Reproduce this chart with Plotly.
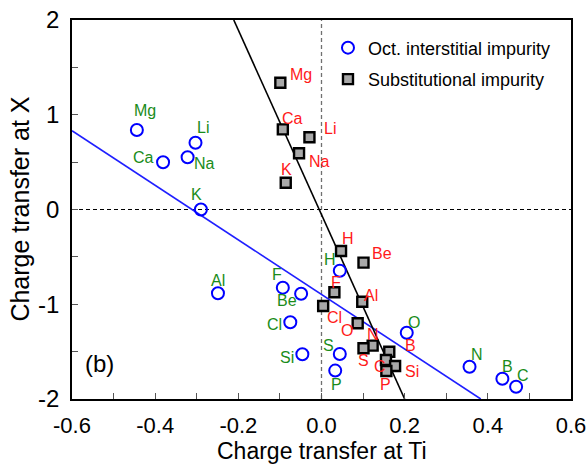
import plotly.graph_objects as go

# ---------------- data ----------------
oct_labels = ["Mg", "Li", "Ca", "Na", "K", "Al", "F", "Be", "Cl", "Si", "S", "P", "H", "O", "N", "B", "C"]
oct_x = [-0.444, -0.303, -0.381, -0.322, -0.290, -0.249, -0.093, -0.049, -0.075, -0.046, 0.044, 0.033, 0.044, 0.205, 0.356, 0.435, 0.468]
oct_y = [0.839, 0.705, 0.498, 0.551, 0.0, -0.884, -0.825, -0.889, -1.19, -1.528, -1.525, -1.70, -0.646, -1.30, -1.66, -1.786, -1.87]

sub_labels = ["Mg", "Ca", "Li", "Na", "K", "H", "Be", "F", "Al", "Cl", "O", "N", "S", "B", "C", "Si", "P"]
sub_x = [-0.099, -0.093, -0.029, -0.054, -0.086, 0.047, 0.101, 0.031, 0.098, 0.004, 0.087, 0.123, 0.101, 0.163, 0.155, 0.177, 0.156]
sub_y = [1.338, 0.846, 0.762, 0.593, 0.283, -0.438, -0.561, -0.874, -0.973, -1.018, -1.201, -1.437, -1.465, -1.501, -1.589, -1.652, -1.705]

# fitted lines
oct_fit_x = [-0.6, 0.383]
oct_fit_y = [0.832, -2.0]
sub_fit_x = [-0.211, 0.200]
sub_fit_y = [2.0, -2.0]

x_ticks = [-0.6, -0.4, -0.2, 0.0, 0.2, 0.4, 0.6]
x_tick_text = ["-0.6", "-0.4", "-0.2", "0.0", "0.2", "0.4", "0.6"]
y_ticks = [-2, -1, 0, 1, 2]
y_tick_text = ["-2", "-1", "0", "1", "2"]

x_title = "Charge transfer at Ti"
y_title = "Charge transfer at X"

# ---------------- label offsets (pixels: dx right, dy down) ----------------
oct_off = {"Mg": (8, -20), "Li": (7, -15), "Ca": (-20, -5), "Na": (17, 6), "K": (-4, -15),
           "Al": (0, -13), "F": (-6, -13), "Be": (-14, 7), "Cl": (-16, 2), "Si": (-15, 3),
           "S": (-11, -8), "P": (1, 14), "H": (-10, -11), "O": (7, -10), "N": (7, -12),
           "B": (5, -12), "C": (7, -11)}
sub_off = {"Mg": (21, -8), "Ca": (10, -11), "Li": (21, -9), "Na": (20, 8), "K": (1, -13),
           "H": (7, -13), "Be": (18, -9), "F": (2, -10), "Al": (9, -6), "Cl": (11, 12),
           "O": (-11, 7), "N": (0, -11), "S": (0, 12), "B": (21, -6), "C": (-6, 6),
           "Si": (17, 5), "P": (-1, 13)}

FONT = "Liberation Sans, Arial, Helvetica, sans-serif"
GREEN = "#1a8c1a"
RED = "#ff1a1a"

fig = go.Figure()

fig.add_trace(go.Scatter(x=oct_fit_x, y=oct_fit_y, mode="lines",
                         line=dict(color="#1f1fff", width=1.6), showlegend=False, hoverinfo="skip"))
fig.add_trace(go.Scatter(x=sub_fit_x, y=sub_fit_y, mode="lines",
                         line=dict(color="black", width=1.6), showlegend=False, hoverinfo="skip"))

fig.add_trace(go.Scatter(x=oct_x, y=oct_y, mode="markers", name="Oct. interstitial impurity",
                         legendgroup="a",
                         marker=dict(symbol="circle-open", size=12, color="#0000ff",
                                     line=dict(width=2, color="#0000ff"))))
fig.add_trace(go.Scatter(x=sub_x, y=sub_y, mode="markers", name="Substitutional impurity",
                         legendgroup="b",
                         marker=dict(symbol="square", size=10, color="#a8a8a8",
                                     line=dict(width=2.4, color="black"))))

for lab, x, y in zip(oct_labels, oct_x, oct_y):
    dx, dy = oct_off[lab]
    fig.add_annotation(x=x, y=y, text=lab, showarrow=False, xshift=dx, yshift=-dy,
                       font=dict(family=FONT, size=16, color=GREEN))
for lab, x, y in zip(sub_labels, sub_x, sub_y):
    dx, dy = sub_off[lab]
    fig.add_annotation(x=x, y=y, text=lab, showarrow=False, xshift=dx, yshift=-dy,
                       font=dict(family=FONT, size=16, color=RED))

fig.add_annotation(xref="paper", yref="paper", x=0.022, y=0.093, text="(b)", showarrow=False,
                   xanchor="left", yanchor="middle", font=dict(family=FONT, size=24, color="black"))

# axis titles
fig.add_annotation(xref="paper", yref="paper", x=0.5, y=-0.138, text=x_title, showarrow=False,
                   xanchor="center", yanchor="middle", font=dict(family=FONT, size=23, color="black"))
fig.add_annotation(xref="paper", yref="paper", x=-0.106, y=0.5, text=y_title, showarrow=False,
                   textangle=-90, xanchor="center", yanchor="middle",
                   font=dict(family=FONT, size=25, color="black"))

# zero reference lines
fig.add_shape(type="line", xref="x", yref="y", x0=0, x1=0, y0=-2, y1=2,
              line=dict(color="#707070", width=1.3, dash="4px,3px"), layer="below")
fig.add_shape(type="line", xref="x", yref="y", x0=-0.6, x1=0.6, y0=0, y1=0,
              line=dict(color="black", width=1, dash="4px,3px"), layer="below")

fig.update_layout(
    width=588, height=467, autosize=False,
    margin=dict(l=72, r=17, t=20, b=68),
    plot_bgcolor="white", paper_bgcolor="white",
    font=dict(family=FONT, color="black"),
    legend=dict(x=0.513, y=0.975, xanchor="left", yanchor="top",
                bgcolor="rgba(0,0,0,0)", font=dict(family=FONT, size=18),
                tracegroupgap=5),
)
fig.update_xaxes(range=[-0.6, 0.6], tickvals=x_ticks, ticktext=x_tick_text,
                 ticks="inside", ticklen=6, tickwidth=1, tickcolor="#555",
                 minor=dict(dtick=0.1, ticks="inside", ticklen=6, tickcolor="#555", showgrid=False),
                 showline=True, linecolor="black", linewidth=1.5, mirror=True,
                 showgrid=False, zeroline=False, ticklabelstandoff=6, automargin=False,
                 tickfont=dict(family=FONT, size=22))
fig.update_yaxes(range=[-2, 2], tickvals=y_ticks, ticktext=y_tick_text,
                 ticks="inside", ticklen=6, tickwidth=1, tickcolor="#555",
                 minor=dict(dtick=0.5, ticks="inside", ticklen=6, tickcolor="#555", showgrid=False),
                 showline=True, linecolor="black", linewidth=1.5, mirror=True,
                 showgrid=False, zeroline=False, ticklabelstandoff=6, automargin=False,
                 tickfont=dict(family=FONT, size=24))

fig.write_html("out.html")
